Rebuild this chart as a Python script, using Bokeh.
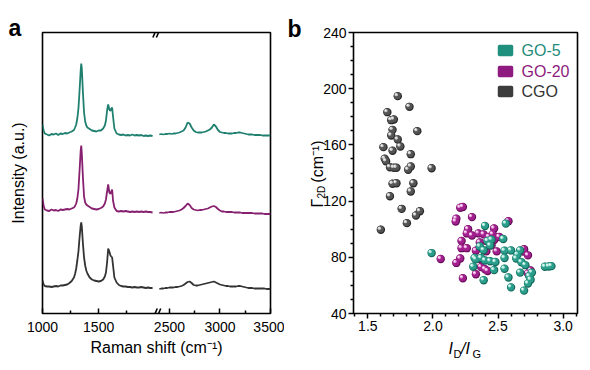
import numpy as np
from bokeh.plotting import figure
from bokeh.models import FixedTicker, Label, Range1d, PrintfTickFormatter
from bokeh.layouts import row
from bokeh.embed import file_html
from bokeh.resources import INLINE

FONT = "Liberation Sans"

# ---------------- Panel a : Raman spectra (stacked, arbitrary units) ----------------
shift_left = [1000, 1010, 1020, 1040, 1060, 1080, 1100, 1120, 1140, 1160,
              1180, 1200, 1220, 1240, 1260, 1280, 1290, 1300, 1310, 1320,
              1330, 1340, 1345, 1350, 1360, 1370, 1380, 1390, 1400, 1420,
              1440, 1460, 1480, 1500, 1520, 1540, 1555, 1565, 1575, 1585,
              1595, 1605, 1612, 1620, 1628, 1640, 1660, 1680, 1700, 1720,
              1740, 1760, 1780, 1800, 1820, 1840, 1860, 1880, 1900, 1920,
              1940, 1960, 1980]
go5_left = [189, 183, 180, 179, 178, 179.5, 179, 180, 178.5, 180,
            179.5, 180.5, 180, 181, 182, 183.5, 186, 189, 195, 205,
            223, 243, 250, 245, 221, 201, 192, 188, 186, 184.5,
            183, 182.5, 182, 183, 183, 185, 188, 193, 203, 209,
            204, 202.5, 205, 206, 197, 185, 180, 179, 178.5, 179,
            178, 178.5, 178, 179, 178, 178.5, 178, 178.5, 177.5, 178,
            177.5, 178, 177.5]
go20_left = [115, 108, 104, 103, 102.5, 104, 103, 103.5, 102.5, 104,
             103.5, 104, 104.5, 104, 105, 106, 107.5, 110, 115, 124,
             143, 163, 168, 160, 136, 117, 111, 109, 108, 106.5,
             105, 104.5, 104, 104.5, 105.5, 107, 110, 114, 122, 129,
             121, 119.5, 122, 124, 113, 106, 102.5, 102, 102.5, 102,
             102.5, 102, 101.5, 102, 101.5, 102, 101.5, 102, 101.5, 102,
             101.5, 101.5, 101]
cgo_left = [33, 29, 27.5, 27, 27, 26.5, 27, 27.5, 27, 28,
            28, 28.5, 29, 30.5, 32.5, 36, 39.5, 45, 53, 62,
            76, 88, 91, 87, 70, 56, 48, 43, 40, 36,
            34, 33, 32.5, 32, 32.5, 34, 37, 41, 51, 65,
            62, 58, 57, 56, 48, 36, 31, 28.5, 27.5, 27,
            27, 26.5, 26.5, 26, 26.5, 26, 26, 26.5, 26, 25.5,
            26, 25.5, 25.5]

shift_right = list(range(2400, 3501, 20))
go5_right = [179, 179.5, 179, 179.5, 179.5, 180, 179.5, 180, 180, 180.5,
             181, 182, 183, 186, 191, 190, 186, 183, 181.5, 181,
             181, 181, 181.5, 182, 183, 184, 186, 189, 187, 183.5,
             181.5, 181, 180.5, 180.5, 180, 180, 180, 180.5, 180.5, 181,
             181, 180.5, 180, 179.5, 179, 179, 179, 178.5, 178.5, 178.5,
             178.5, 178, 178, 178, 178, 178]
go20_right = [100.5, 101, 100.5, 101, 101, 101.5, 101.5, 101.5, 102, 102.5,
              103, 104, 105.5, 107.5, 110, 108.5, 105.5, 104, 103.5, 103,
              103.5, 103.5, 104, 104.5, 105, 106, 107, 107.5, 106.5, 104.5,
              103, 102, 102, 101.5, 101.5, 101.5, 101.5, 101, 101, 101,
              101, 100.5, 100.5, 100.5, 100.5, 100.5, 100.5, 100, 100, 100,
              100, 100, 99.5, 99.5, 99.5, 99.5]
cgo_right = [24.5, 25, 25, 25.5, 25.5, 26, 26, 26, 26.5, 26.5,
             27, 27.5, 28.5, 30, 31.5, 32, 30.5, 28.5, 28, 28,
             28.5, 29, 29.5, 30, 30.5, 31, 31.5, 32, 31, 30,
             29, 28.5, 28, 27.5, 27.5, 27, 27, 27, 27, 27.5,
             27.5, 27, 26.5, 26, 25.5, 25.5, 25.5, 25, 25, 25,
             25, 25, 25, 24.5, 24.5, 24.5]

shift_ticks = [1000, 1500, 2500, 3000, 3500]
shift_minor = [1250, 1750, 2750, 3250]

# ---------------- Panel b : FWHM(2D) vs ID/IG ----------------
cgo_ratio = [1.73, 1.82, 1.65, 1.68, 1.70, 1.88, 1.69, 1.68, 1.73, 1.75,
             1.62, 1.83, 1.69, 1.63, 1.64, 1.67, 1.70, 1.72, 1.81, 1.83,
             1.99, 1.85, 1.69, 1.72, 1.83, 1.67, 1.76, 1.90, 1.87, 1.60, 1.80]
cgo_fwhm = [194.7, 187.1, 183.3, 177.6, 178.1, 169.8, 170.7, 166.7, 163.8, 158.9,
            158.4, 153.4, 155.8, 150.1, 148.4, 144.1, 143.7, 143.7, 142.3, 144.6,
            143.4, 132.7, 132.3, 132.7, 126.8, 123.5, 114.5, 112.8, 109.8, 99.6, 104.3]

go20_ratio = [2.21, 2.23, 2.30, 2.18, 2.175, 2.27, 2.26, 2.35, 2.39, 2.47,
              2.46, 2.22, 2.41, 2.47, 2.22, 2.26, 2.33, 2.41, 2.49, 2.70,
              2.73, 2.06, 2.21, 2.18, 2.37, 2.33, 2.37, 2.42, 2.23, 2.75,
              2.58, 2.43, 2.51, 2.36, 2.45, 2.30, 2.70, 2.73, 2.40]
go20_fwhm = [115.3, 115.8, 108.6, 107.5, 105.5, 100.0, 97.0, 97.0, 96.3, 100.5,
             96.3, 91.6, 91.6, 92.3, 86.5, 86.5, 84.7, 84.2, 84.2, 85.8,
             81.4, 78.8, 79.1, 76.0, 78.4, 67.9, 73.0, 70.2, 65.1, 70.7,
             105.7, 94.5, 94.5, 90.5, 88.5, 95.5, 84.0, 68.5, 71.5]

go5_ratio = [2.40, 2.56, 1.99, 2.36, 2.42, 2.54, 2.44, 2.55, 2.60, 2.67,
             2.65, 2.64, 2.32, 2.37, 2.40, 2.44, 2.48, 2.55, 2.71, 2.31,
             2.47, 2.55, 2.67, 2.76, 2.86, 2.89, 2.91, 2.39, 2.58, 2.60,
             2.70, 2.73, 2.75, 2.45, 2.39, 2.68, 2.74, 2.33]
go5_fwhm = [102.3, 104.0, 83.0, 87.7, 91.6, 93.0, 88.4, 84.7, 84.9, 84.9,
            81.9, 79.1, 79.5, 79.5, 77.7, 77.2, 76.7, 79.5, 74.4, 73.3,
            70.9, 71.9, 69.1, 69.1, 73.3, 73.5, 73.7, 63.7, 65.6, 58.6,
            56.3, 61.4, 64.0, 92.5, 85.0, 76.5, 66.5, 78.5]

legend_names = ["GO-5", "GO-20", "CGO"]

x_ticks_b = [1.5, 2.0, 2.5, 3.0]
x_minor_b = [1.4, 1.6, 1.7, 1.8, 1.9, 2.1, 2.2, 2.3, 2.4, 2.6, 2.7, 2.8, 2.9, 3.1]
y_ticks_b = [40, 80, 120, 160, 200, 240]
y_minor_b = [50, 60, 70, 90, 100, 110, 130, 140, 150, 170, 180, 190, 210, 220, 230]

# ---------------- styling ----------------
LINE_COLORS = {"go5": "#1f8070", "go20": "#86206f", "cgo": "#333333"}
BALL = {  # edge, body, highlight
    "go5": ("#14675a", "#2b9d8b", "#a6e3d6"),
    "go20": ("#670c58", "#a2208d", "#eaa2dc"),
    "cgo": ("#262626", "#545454", "#c8c8c8"),
}
TEXT_COLORS = ["#1f8b7a", "#8e1b7d", "#333333"]
SWATCH_COLORS = ["#1f8f7e", "#8f1a80", "#3c3c3c"]


def axis_pos(r):
    """Broken-axis position: 1000-2000 kept, 2400-3500 compressed after the break."""
    r = np.asarray(r, dtype=float)
    return np.where(r <= 2100, r, 2040 + (r - 2400) * 0.9)


def style_axis(ax, size="14px"):
    ax.axis_line_color = None
    ax.major_label_text_font = FONT
    ax.major_label_text_font_size = size
    ax.major_label_text_color = "black"
    ax.axis_label_text_font = FONT
    ax.axis_label_text_font_style = "normal"
    ax.axis_label_text_color = "black"
    ax.major_tick_line_width = 1.5
    ax.minor_tick_line_width = 1.5
    ax.major_tick_line_color = "black"
    ax.minor_tick_line_color = "black"


def side_label(fig, place, text, x, y, xo, yo, size="16px", style="normal", angle=0.0,
               color="black", baseline="alphabetic"):
    fig.add_layout(Label(x=x, y=y, x_offset=xo, y_offset=yo, text=text, angle=angle,
                         text_align="left", text_baseline=baseline, text_font=FONT,
                         text_font_size=size, text_font_style=style, text_color=color), place)


# ---- Panel a figure
XA0, XA1 = 1000, 3030
YA0, YA1 = 0, 281
FWA, FHA = 228, 281
pa = figure(frame_width=FWA, frame_height=FHA, output_backend="svg", toolbar_location=None,
            x_range=Range1d(XA0, XA1), y_range=Range1d(YA0, YA1),
            min_border_left=42, min_border_right=14, min_border_top=32, min_border_bottom=49)
pa.grid.visible = False
pa.outline_line_color = "black"
pa.outline_line_width = 1.6
pa.background_fill_color = "white"
pa.border_fill_color = "white"

xa = pa.xaxis[0]
style_axis(xa)
xa.ticker = FixedTicker(ticks=[float(v) for v in axis_pos(shift_ticks)],
                        minor_ticks=[float(v) for v in axis_pos(shift_minor)])
xa.major_label_overrides = {int(round(float(v))): str(t) for v, t in zip(axis_pos(shift_ticks), shift_ticks)}
xa.major_tick_in = 5
xa.major_tick_out = 0
xa.minor_tick_in = 3
xa.minor_tick_out = 0
xa.major_label_standoff = 8
xa.axis_label = "Raman shift (cm\u207b\u00b9)"
xa.axis_label_text_font_size = "16px"
xa.axis_label_standoff = 4

ya = pa.yaxis[0]
style_axis(ya)
ya.ticker = FixedTicker(ticks=[])
ya.major_tick_out = 0
ya.major_tick_in = 0
ya.major_label_standoff = 0
ya.axis_label = "Intensity (a.u.)"
ya.axis_label_text_font_size = "16px"
ya.axis_label_standoff = 16

for key, left, right in (("go5", go5_left, go5_right),
                         ("go20", go20_left, go20_right),
                         ("cgo", cgo_left, cgo_right)):
    pa.line(axis_pos(shift_left), left, line_color=LINE_COLORS[key], line_width=1.8)
    pa.line(axis_pos(shift_right), right, line_color=LINE_COLORS[key], line_width=1.8)

# axis-break marks "//" on top and bottom frame edges
uxa = (XA1 - XA0) / FWA
uya = (YA1 - YA0) / FHA
break_x = 2020
bx0, bx1, by0, by1 = [], [], [], []
for yy in (YA0, YA1):
    for dx in (-2.0, 1.5):
        bx0.append(break_x + (dx - 2.2) * uxa)
        bx1.append(break_x + (dx + 2.2) * uxa)
        by0.append(yy - 5 * uya)
        by1.append(yy + 5 * uya)
pa.segment(bx0, by0, bx1, by1, line_color="black", line_width=1.6)

side_label(pa, "above", "a", XA0, YA1, -34, 5, size="23px", style="bold")

# ---- Panel b figure
XB0, XB1 = 1.39, 3.11
YB0, YB1 = 40, 240
FWB, FHB = 224, 281
pb = figure(frame_width=FWB, frame_height=FHB, output_backend="svg", toolbar_location=None,
            x_range=Range1d(XB0, XB1), y_range=Range1d(YB0, YB1),
            min_border_left=69, min_border_right=5, min_border_top=32, min_border_bottom=49)
pb.grid.visible = False
pb.outline_line_color = "black"
pb.outline_line_width = 1.6
pb.background_fill_color = "white"
pb.border_fill_color = "white"

xb = pb.xaxis[0]
style_axis(xb)
xb.ticker = FixedTicker(ticks=x_ticks_b, minor_ticks=x_minor_b)
xb.formatter = PrintfTickFormatter(format="%.1f")
xb.major_tick_out = 5
xb.major_tick_in = 0
xb.minor_tick_out = 3
xb.minor_tick_in = 0
xb.major_label_standoff = 2

yb = pb.yaxis[0]
style_axis(yb)
yb.ticker = FixedTicker(ticks=y_ticks_b, minor_ticks=y_minor_b)
yb.major_tick_out = 5
yb.major_tick_in = 0
yb.minor_tick_out = 3
yb.minor_tick_in = 0
yb.major_label_standoff = 2

ux = (XB1 - XB0) / FWB   # data units per pixel
uy = (YB1 - YB0) / FHB


def balls(xs, ys, key):
    edge, body, hl = BALL[key]
    xs = np.asarray(xs, dtype=float)
    ys = np.asarray(ys, dtype=float)
    pb.scatter(xs, ys, size=8.4, fill_color=edge, line_color=None)
    pb.scatter(xs - 0.45 * ux, ys + 0.45 * uy, size=7.0, fill_color=body, line_color=None)
    pb.scatter(xs - 1.5 * ux, ys + 1.5 * uy, size=3.4, fill_color=hl, line_color=None)
    pb.scatter(xs - 1.8 * ux, ys + 1.8 * uy, size=1.5, fill_color="white", line_color=None)


balls(cgo_ratio, cgo_fwhm, "cgo")
balls(go20_ratio, go20_fwhm, "go20")
balls(go5_ratio, go5_fwhm, "go5")

# legend (custom: coloured text per entry)
row_px = [18, 39, 59]
sw_x = [XB1 - 72 * ux] * 3
sw_y = [YB1 - r * uy for r in row_px]
pb.rect(sw_x, sw_y, width=12, height=8, width_units="screen", height_units="screen",
        fill_color=SWATCH_COLORS, line_color=SWATCH_COLORS, line_width=3.5, line_join="round")
for name, col, r in zip(legend_names, TEXT_COLORS, row_px):
    pb.add_layout(Label(x=XB1, y=YB1, x_offset=-56, y_offset=-r, text=name, text_align="left",
                        text_baseline="middle", text_font=FONT, text_font_size="16px",
                        text_color=col))

# y title: Γ_2D (cm^-1), rotated; pieces live in the left side panel
side_label(pb, "left", "\u0393\u2002\u2002(cm\u207b\u00b9)", XB0, YB0, -36, 106, angle=np.pi / 2)
side_label(pb, "left", "2D", XB0, YB0, -32, 115, size="10px", angle=np.pi / 2)
# x title: I_D / I_G
side_label(pb, "below", "I\u2002/I", XB0, YB0, 95, -35, style="italic")
side_label(pb, "below", "D\u2003G", XB0, YB0, 100, -40, size="11px")

side_label(pb, "above", "b", XB0, YB1, -66, 4, size="23px", style="bold")

layout = row(pa, pb)
open("out.html", "w").write(file_html(layout, INLINE, title="Raman"))
